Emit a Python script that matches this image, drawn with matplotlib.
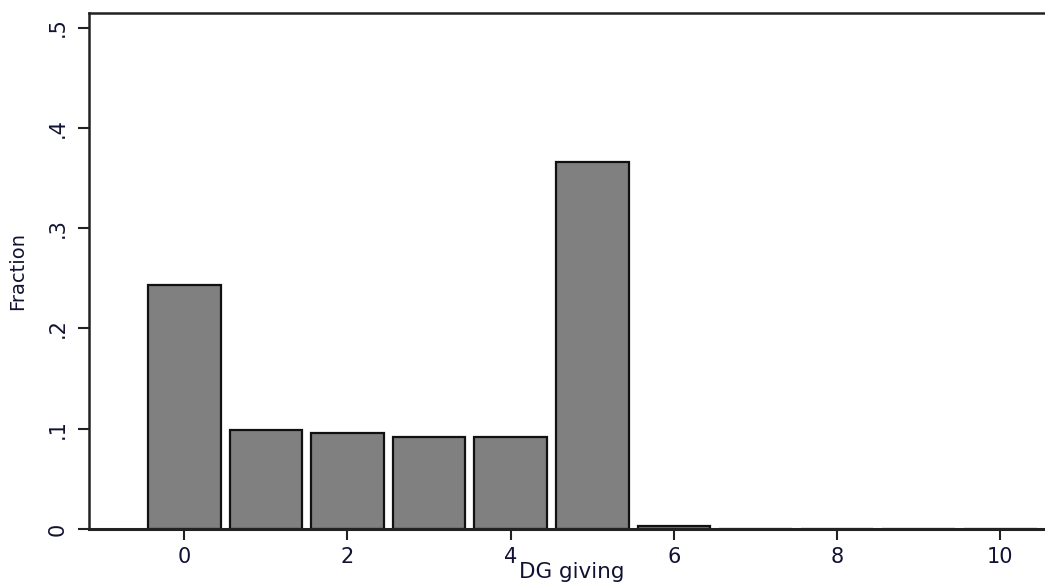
import matplotlib
matplotlib.use("Agg")
import matplotlib.pyplot as plt

plt.rcParams['font.family'] = ['DejaVu Sans']

# Data
giving = [0, 1, 2, 3, 4, 5, 6, 7, 8, 9, 10]
fraction = [0.243, 0.099, 0.0955, 0.0915, 0.0915, 0.366, 0.003, 0.0, 0.0, 0.0, 0.0]
xticks = [0, 2, 4, 6, 8, 10]
yticks = [0, 0.1, 0.2, 0.3, 0.4, 0.5]
ytick_labels = ['0', '.1', '.2', '.3', '.4', '.5']

fig = plt.figure(figsize=(10.45, 5.85), dpi=100)
ax = fig.add_axes([0.0849, 0.0957, 1.0096 - 0.0849, 0.9778 - 0.0957])

ax.bar(giving, fraction, width=0.89, color='#808080', edgecolor='#111111', linewidth=1.6)

ax.set_xlim(-1.17, 10.67)
ax.set_ylim(0, 0.5145)

ax.set_xticks(xticks)
ax.set_xticklabels([str(t) for t in xticks], fontsize=15, color='#111133')
ax.set_yticks(yticks)
ax.set_yticklabels(ytick_labels, fontsize=15, rotation=90, va='center', color='#111133')

ax.tick_params(axis='both', direction='out', length=8, width=1.5, color='#222222')
ax.tick_params(axis='x', pad=5)
ax.tick_params(axis='y', pad=7)

for s in ['left', 'top', 'bottom']:
    ax.spines[s].set_linewidth(1.8)
    ax.spines[s].set_color('#222222')
ax.spines['bottom'].set_linewidth(2.2)
ax.spines['right'].set_visible(False)

ax.set_ylabel('Fraction', fontsize=14, color='#111133', labelpad=15)
ax.set_xlabel('DG giving', fontsize=15.5, color='#111133', labelpad=-3.5)

fig.savefig('out.png', dpi=100)
